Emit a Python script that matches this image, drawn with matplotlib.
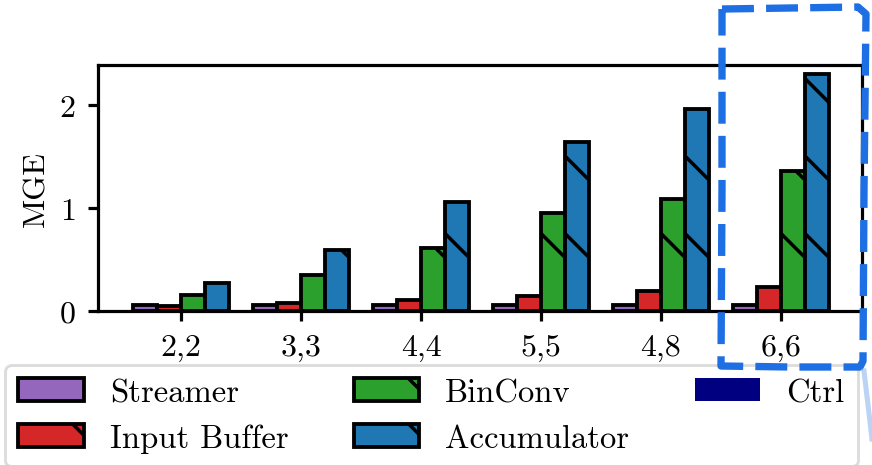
import numpy as np
import matplotlib
matplotlib.use('Agg')
import matplotlib.pyplot as plt
from matplotlib.lines import Line2D
from matplotlib.transforms import IdentityTransform

plt.rcParams['font.family'] = 'serif'
plt.rcParams['font.serif'] = ['cmr10']
plt.rcParams['mathtext.fontset'] = 'cm'
plt.rcParams['axes.unicode_minus'] = False
plt.rcParams['axes.formatter.use_mathtext'] = True
plt.rcParams['lines.scale_dashes'] = False

# Configurations on the x axis
configs = ['2,2', '3,3', '4,4', '5,5', '4,8', '6,6']

# Area in MGE per block
streamer = [0.06, 0.06, 0.06, 0.06, 0.06, 0.06]
input_buffer = [0.05, 0.08, 0.11, 0.15, 0.19, 0.23]
binconv = [0.16, 0.35, 0.61, 0.95, 1.09, 1.36]
accumulator = [0.27, 0.59, 1.06, 1.64, 1.96, 2.30]
ctrl = [0.0, 0.0, 0.0, 0.0, 0.0, 0.0]

DPI = 460
HATCH_STEP = 77.5  # px between hatch lines, pattern starts at each patch's corner

fig = plt.figure(figsize=(872 / DPI, 466 / DPI), dpi=DPI)
ax = fig.add_axes([0.1124, 0.3305, 0.8761, 0.528])

x = np.arange(len(configs))
w = 0.2
edge = dict(edgecolor='black', linewidth=0.6)
ax.bar(x - 1.5 * w, streamer, w, color='#9467bd', label='Streamer', **edge)
b_ib = ax.bar(x - 0.5 * w, input_buffer, w, color='#d62728', label='Input Buffer', **edge)
b_bc = ax.bar(x + 0.5 * w, binconv, w, color='#2ca02c', label='BinConv', **edge)
b_acc = ax.bar(x + 1.5 * w, accumulator, w, color='#1f77b4', label='Accumulator', **edge)
ax.bar(x + 2.5 * w, ctrl, w, color='#000080', linewidth=0, label='Ctrl')

ax.set_xlim(-0.692, 5.675)
ax.set_ylim(0, 2.388)
ax.set_xticks(x)
ax.set_xticklabels(configs)
ax.set_yticks([0, 1, 2])
ax.set_ylabel('MGE', fontsize=5, labelpad=1.4)
ax.tick_params(labelsize=5, length=1.5, width=0.5, pad=2)
for s in ax.spines.values():
    s.set_linewidth(0.5)

leg = fig.legend(loc='upper left', bbox_to_anchor=(5 / 872, 1 - 366 / 466), ncol=3,
                 fontsize=5.12, frameon=True, borderaxespad=0)
leg.get_frame().set_linewidth(0.45)
leg.get_frame().set_edgecolor('#d4d4d4')

fig.canvas.draw()


def sparse_hatch(patch, z):
    # '\' hatch lines anchored at the lower-left corner of the patch
    bb = patch.get_window_extent()
    if bb.height <= 0:
        return
    n = int((bb.height + bb.width) / HATCH_STEP) + 1
    for k in range(1, n + 1):
        y0 = bb.y0 + k * HATCH_STEP
        ln = Line2D([bb.x0, bb.x0 + y0 - bb.y0 + 5], [y0, bb.y0 - 5],
                    transform=IdentityTransform(), color='black', linewidth=0.55,
                    zorder=z)
        ln.set_clip_box(bb)
        fig.add_artist(ln)


for bars in (b_ib, b_bc, b_acc):
    for p in bars.patches:
        sparse_hatch(p, 2.5)
for h in leg.legend_handles[1:4]:
    sparse_hatch(h, 6)

# dashed highlight around the last group
px = [722, 790, 858, 866, 864, 863, 860, 790, 721, 722, 722]
py = [10, 9, 8, 15, 190, 362, 368, 368, 367, 190, 10]
fig.add_artist(Line2D([p / 872 for p in px], [1 - p / 466 for p in py],
                      transform=fig.transFigure, color='#1d6fe3', linewidth=1.15,
                      linestyle=(0, (5.0, 1.9)), solid_capstyle='butt', zorder=7))
fig.add_artist(Line2D([864 / 872, 872 / 872], [1 - 372 / 466, 1 - 440 / 466],
                      transform=fig.transFigure, color='#8fb8f0', linewidth=0.8,
                      alpha=0.6, zorder=7))

fig.savefig('out.png', dpi=DPI)
